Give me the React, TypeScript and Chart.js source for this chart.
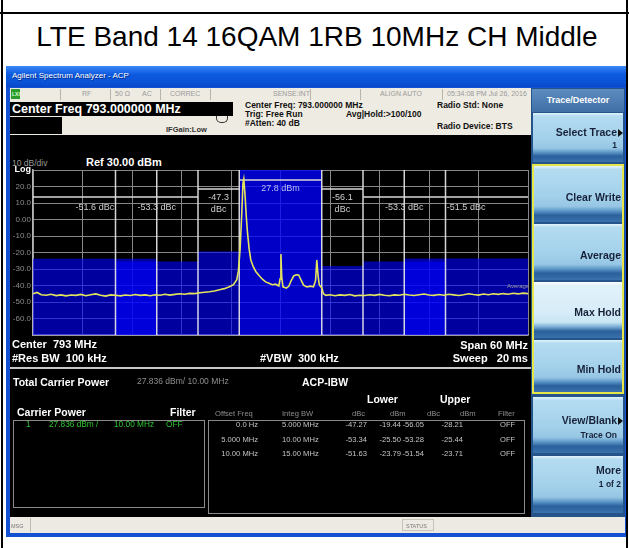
import React, { useEffect, useRef } from "react";
import { Chart, registerables } from "chart.js";
Chart.register(...registerables);

const FONT = "'Liberation Sans', Arial, Helvetica, sans-serif";

// ---------- data ----------
const title = "LTE Band 14 16QAM 1RB 10MHz CH Middle";
const refLevel = 30;
const bottomLevel = -70;
const dbPerDiv = 10;
const yTickLabels = ["Log", "20.0", "10.0", "0.00", "-10.0", "-20.0", "-30.0", "-40.0", "-50.0", "-60.0", ""];
const startFreq = 763;
const stopFreq = 823;
const freqPerDiv = 6;
const carrierBand = [788, 798];
const carrierPower = 27.836;
const carrierLabel = "27.8 dBm";
const carrierMarkerLevel = 24;
const offsetFreqs = [0, 5, 10];
const integBWs = [5, 10, 15];
const offsetFreqText = ["0.0 Hz", "5.000 MHz", "10.00 MHz"];
const integBWText = ["5.000 MHz", "10.00 MHz", "15.00 MHz"];
const lowerDbc = [-47.27, -53.34, -51.63];
const lowerDbm = [-19.44, -25.5, -23.79];
const upperDbc = [-56.05, -53.28, -51.54];
const upperDbm = [-28.21, -25.44, -23.71];
const lowerDbcLabel = ["-47.3", "-53.3", "-51.6"];
const upperDbcLabel = ["-56.1", "-53.3", "-51.5"];
const offsetMarkerLevels = [18.5, 13.6, 13.6];

const traceFreq = [
  763.0, 763.5, 764.0, 764.6, 765.2, 765.8, 766.4, 767.0, 767.6, 768.2, 768.8, 769.4, 770.0, 770.6, 771.2, 771.8,
  772.4, 773.0, 773.6, 774.2, 774.8, 775.4, 776.0, 776.6, 777.2, 777.8, 778.4, 779.0, 779.6, 780.2, 780.8, 781.4,
  782.0, 782.6, 783.2, 783.8, 784.4, 785.0, 785.6, 786.2, 786.8, 787.3, 787.7, 787.9, 788.1, 788.3, 788.45, 788.55,
  788.7, 788.85, 789.0, 789.2, 789.4, 789.7, 790.0, 790.4, 790.8, 791.2, 791.6, 792.0, 792.4, 792.8, 792.95, 793.05,
  793.15, 793.3, 793.7, 794.0, 794.3, 794.6, 794.9, 795.2, 795.5, 795.8, 796.2, 796.6, 797.0, 797.25, 797.4, 797.55,
  797.7, 798.0, 798.2, 798.5, 799.0, 799.6, 800.2, 800.8, 801.4, 802.0, 802.6, 803.2, 803.8, 804.4, 805.0, 805.6,
  806.2, 806.8, 807.4, 808.0, 808.6, 809.2, 809.8, 810.4, 811.0, 811.6, 812.2, 812.8, 813.4, 814.0, 814.6, 815.2,
  815.8, 816.4, 817.0, 817.6, 818.2, 818.8, 819.4, 820.0, 820.6, 821.2, 821.8, 822.4, 823.0,
];
const traceLevel = [
  -45.0, -44.2, -45.6, -45.9, -45.3, -46.1, -45.7, -46.3, -45.8, -46.0, -45.4, -46.2, -45.6, -45.1, -45.9, -46.4,
  -45.7, -45.9, -46.3, -45.8, -46.1, -45.5, -46.0, -45.7, -46.2, -45.6, -45.9, -45.3, -45.8, -45.4, -45.0, -45.3,
  -44.8, -44.9, -44.4, -44.1, -43.8, -43.3, -42.6, -41.9, -40.8, -39.5, -36.5, -31.0, -18.0, 3.0, 22.0, 24.5,
  15.0, 2.0, -8.0, -18.0, -24.5, -28.6, -31.5, -34.0, -36.2, -37.8, -38.6, -39.5, -39.2, -40.3, -36.0, -21.0,
  -35.0, -40.8, -41.6, -40.5, -37.0, -34.2, -33.5, -33.6, -36.8, -39.8, -40.9, -40.4, -40.8, -37.0, -24.5, -34.0,
  -39.5, -41.5, -45.0, -46.0, -45.6, -46.2, -45.7, -46.0, -45.5, -46.3, -45.9, -46.1, -45.6, -46.0, -45.4, -45.9,
  -46.2, -45.7, -45.9, -45.3, -45.8, -46.1, -45.6, -45.2, -45.8, -46.0, -45.5, -45.9, -45.3, -45.7, -46.1, -45.6,
  -45.0, -45.5, -45.8, -45.2, -45.6, -45.0, -45.4, -44.9, -45.3, -44.7, -45.1, -44.6, -44.9,
];

// ---------- derived geometry (from data) ----------
const lowerBands = offsetFreqs.map((o, i) => [carrierBand[0] - o - integBWs[i], carrierBand[0] - o]);
const upperBands = offsetFreqs.map((o, i) => [carrierBand[1] + o, carrierBand[1] + o + integBWs[i]]);

const bandFill = (band: number[], level: number, color: string) => ({
  type: "line",
  data: [
    { x: band[0], y: level },
    { x: band[1], y: level },
  ],
  fill: "start",
  backgroundColor: color,
  borderWidth: 0,
  pointRadius: 0,
  order: 4,
});

const edgeSet = Array.from(
  new Set([...lowerBands.flat(), ...upperBands.flat(), ...carrierBand])
).filter((f) => f > startFreq && f < stopFreq);
const edgeData: any[] = [];
edgeSet.forEach((f) => {
  edgeData.push({ x: f, y: bottomLevel }, { x: f, y: refLevel }, { x: f, y: null });
});

const barData: any[] = [];
barData.push({ x: carrierBand[0], y: carrierMarkerLevel }, { x: carrierBand[1], y: carrierMarkerLevel }, { x: carrierBand[1], y: null });
offsetFreqs.forEach((_, i) => {
  [lowerBands[i], upperBands[i]].forEach((b) => {
    barData.push({ x: b[0], y: offsetMarkerLevels[i] }, { x: b[1], y: offsetMarkerLevels[i] }, { x: b[1], y: null });
  });
});

const acpLabelPlugin = {
  id: "acpLabels",
  afterDatasetsDraw(chart: any) {
    const { ctx } = chart;
    const xs = chart.scales.x;
    const ys = chart.scales.y;
    ctx.save();
    ctx.textAlign = "center";
    ctx.textBaseline = "middle";
    ctx.font = `9px ${FONT}`;
    ctx.fillStyle = "#b9bdf0";
    ctx.fillText(
      carrierLabel,
      xs.getPixelForValue((carrierBand[0] + carrierBand[1]) / 2),
      ys.getPixelForValue(carrierMarkerLevel) + 9
    );
    ctx.fillStyle = "#cfcfcf";
    offsetFreqs.forEach((_, i) => {
      const pairs: [number[], string][] = [
        [lowerBands[i], lowerDbcLabel[i]],
        [upperBands[i], upperDbcLabel[i]],
      ];
      pairs.forEach(([band, lab]) => {
        const cx = xs.getPixelForValue((band[0] + band[1]) / 2);
        const yy = ys.getPixelForValue(offsetMarkerLevels[i]);
        if (i === 0) {
          ctx.fillText(lab, cx, yy + 9);
          ctx.fillText("dBc", cx, yy + 20.5);
        } else {
          ctx.fillText(`${lab} dBc`, cx, yy + 10);
        }
      });
    });
    ctx.restore();
  },
};

// ---------- small HTML helpers ----------
function T(p: any) {
  const s = p.s || 9;
  const st: any = {
    position: "absolute",
    top: p.y - s * 0.6,
    fontSize: s,
    lineHeight: `${s * 1.2}px`,
    fontWeight: p.b ? "bold" : "normal",
    color: p.c || "#fff",
    whiteSpace: "pre",
    fontFamily: FONT,
    ...(p.style || {}),
  };
  if (p.a === "right") st.right = 629 - p.x;
  else if (p.a === "center") {
    st.left = p.x;
    st.transform = "translateX(-50%)";
  } else st.left = p.x;
  return <div style={st}>{p.children}</div>;
}
function B(p: any) {
  return (
    <div
      style={{
        position: "absolute",
        left: p.x,
        top: p.y,
        width: p.w,
        height: p.h,
        background: p.bg,
        boxSizing: "border-box",
        ...(p.style || {}),
      }}
    />
  );
}

const keyGrad =
  "linear-gradient(to bottom, #e4f4fc 0%, #b4dcf1 6%, #a2d0ea 55%, #96c6e4 72%, #5e98c8 80%, #2a609c 88%, #3a72ac 100%)";
const keyGradLight =
  "linear-gradient(to bottom, #ffffff 0%, #e2f2fa 6%, #d6ecf8 55%, #c9e5f4 72%, #79acd4 80%, #2a609c 88%, #3a72ac 100%)";

function Arrow({ x, y }: any) {
  return (
    <div
      style={{
        position: "absolute",
        left: x,
        top: y - 4,
        width: 0,
        height: 0,
        borderLeft: "5px solid #111",
        borderTop: "4px solid transparent",
        borderBottom: "4px solid transparent",
      }}
    />
  );
}

export default function App() {
  const ref = useRef<HTMLCanvasElement>(null);
  useEffect(() => {
    const datasets: any[] = [
      {
        type: "line",
        data: traceFreq.map((f, i) => ({ x: f, y: traceLevel[i] })),
        borderColor: "#e4e45c",
        borderWidth: 1.6,
        pointRadius: 0,
        fill: false,
        order: 0,
      },
      {
        type: "line",
        data: barData,
        borderColor: "#d8d8d8",
        borderWidth: 1.5,
        pointRadius: 0,
        fill: false,
        spanGaps: false,
        order: 1,
      },
      {
        type: "line",
        data: edgeData,
        borderColor: "rgba(235,235,235,0.9)",
        borderWidth: 1.5,
        pointRadius: 0,
        fill: false,
        spanGaps: false,
        order: 2,
      },
      bandFill(carrierBand, refLevel, "rgba(0,0,255,0.78)"),
      ...lowerBands.map((b, i) => bandFill(b, lowerDbm[i], "rgba(0,0,255,0.62)")),
      ...upperBands.map((b, i) => bandFill(b, upperDbm[i], "rgba(0,0,255,0.62)")),
    ];
    const chart = new Chart(ref.current as HTMLCanvasElement, {
      type: "line",
      data: { datasets },
      options: {
        animation: false,
        responsive: false,
        devicePixelRatio: 1,
        parsing: true,
        layout: { padding: { left: 0, top: 35, right: 2, bottom: 32 } },
        plugins: { legend: { display: false }, tooltip: { enabled: false } },
        scales: {
          x: {
            type: "linear",
            min: startFreq,
            max: stopFreq,
            ticks: { stepSize: freqPerDiv, display: false },
            grid: { color: "#878787", lineWidth: 1, drawTicks: false },
            border: { display: true, color: "#b4b4b4", width: 1.5 },
            afterFit: (s: any) => {
              s.height = 0;
            },
          },
          y: {
            type: "linear",
            min: bottomLevel,
            max: refLevel,
            ticks: {
              stepSize: dbPerDiv,
              padding: 2,
              autoSkip: false,
              color: (c: any) => (c.tick && c.tick.value === refLevel ? "#ffffff" : "#8c8c8c"),
              font: (c: any) =>
                c.tick && c.tick.value === refLevel
                  ? { family: FONT, size: 9, weight: "bold" }
                  : { family: FONT, size: 8 },
              callback: (v: any) => yTickLabels[Math.round((refLevel - v) / dbPerDiv)],
            },
            grid: { color: "#878787", lineWidth: 1, drawTicks: false },
            border: { display: true, color: "#b4b4b4", width: 1.5 },
            afterFit: (s: any) => {
              s.width = 23;
            },
          },
        },
      } as any,
      plugins: [acpLabelPlugin],
    } as any);
    return () => chart.destroy();
  }, []);

  const gray = "#8e8e8e";
  const tbl = "#c4c4c4";
  const rowsY = [425, 439.5, 454];
  const ts = 7.6;

  return (
    <div
      style={{
        position: "absolute",
        left: 0,
        top: 0,
        width: 629,
        height: 548,
        background: "#fff",
        overflow: "hidden",
        fontFamily: FONT,
      }}
    >
      {/* outer frame */}
      <B x={1} y={0} w={2} h={548} bg="#000" />
      <B x={626} y={0} w={2} h={548} bg="#000" />
      <B x={0} y={12} w={629} h={2} bg="#000" />
      <T x={317} y={37} s={28} c="#000" a="center">
        {title}
      </T>

      {/* window */}
      <B x={6} y={66} w={620} h={471} bg="#1450d2" />
      <B x={6} y={66} w={620} h={21} bg="linear-gradient(to bottom, #3c8af4, #0c5ae0 40%, #0a52d6 80%, #0848c8)" />
      <T x={12} y={76} s={8} c="#fff" style={{ textShadow: "1px 1px 0 #0a2c80" }}>
        Agilent Spectrum Analyzer - ACP
      </T>

      {/* status row */}
      <B x={10} y={88} w={521} h={13} bg="#eeebe2" />
      <B x={11} y={89} w={9} h={10} bg="#2b9b2b" />
      <T x={12} y={94} s={5} c="#d8ffd8" b>
        LXI
      </T>
      {[60, 110, 160, 210, 310, 360, 442].map((x) => (
        <B key={x} x={x} y={89} w={1} h={11} bg="#b8b4a8" />
      ))}
      <T x={82} y={94} s={7} c="#9a9a9a">RF</T>
      <T x={115} y={94} s={7} c="#9a9a9a">50 Ω</T>
      <T x={142} y={94} s={7} c="#9a9a9a">AC</T>
      <T x={170} y={94} s={7} c="#9a9a9a">CORREC</T>
      <T x={273} y={94} s={7} c="#9a9a9a">SENSE:INT</T>
      <T x={380} y={94} s={7} c="#9a9a9a">ALIGN AUTO</T>
      <T x={447} y={94} s={7} c="#9a9a9a">05:34:08 PM Jul 26, 2016</T>

      {/* header info */}
      <B x={10} y={101} w={521} h={34} bg="#eeebe2" />
      <B x={10} y={102} w={223} h={14} bg="#000" />
      <T x={12} y={109} s={12.5} b c="#fff">
        Center Freq 793.000000 MHz
      </T>
      <B x={10} y={117} w={52} h={17} bg="#000" />
      <T x={166} y={129} s={7.5} b c="#333">IFGain:Low</T>
      <div
        style={{
          position: "absolute",
          left: 216,
          top: 116,
          width: 10,
          height: 6,
          border: "1.5px solid #333",
          borderTop: "none",
          borderRadius: "0 0 5px 5px",
        }}
      />
      <T x={245} y={105} s={8.5} b c="#111">Center Freq: 793.000000 MHz</T>
      <T x={245} y={114} s={8.5} b c="#111">Trig: Free Run</T>
      <T x={346} y={114} s={8.5} b c="#111">Avg|Hold:&gt;100/100</T>
      <T x={245} y={123} s={8.5} b c="#111">#Atten: 40 dB</T>
      <T x={437} y={105} s={8.5} b c="#111">Radio Std: None</T>
      <T x={437} y={126} s={8.5} b c="#111">Radio Device: BTS</T>

      {/* display */}
      <B x={10} y={135} w={521} h={233} bg="#000" />
      <T x={12} y={163} s={8.5} c="#9a9a9a">10 dB/div</T>
      <T x={86} y={163} s={11} b c="#fff">Ref 30.00 dBm</T>
      <canvas
        ref={ref}
        width={520}
        height={232}
        style={{ position: "absolute", left: 10, top: 135, width: 520, height: 232 }}
      />
      <T x={507} y={287} s={6} c="#9a9a9a">Average</T>
      <T x={12} y={345} s={11} b c="#fff">{"Center  793 MHz"}</T>
      <T x={12} y={359} s={11} b c="#fff">{"#Res BW  100 kHz"}</T>
      <T x={260} y={359} s={11} b c="#fff">{"#VBW  300 kHz"}</T>
      <T x={528} y={346} s={11} b c="#fff" a="right">Span 60 MHz</T>
      <T x={528} y={359} s={11} b c="#fff" a="right">{"Sweep   20 ms"}</T>
      <B x={10} y={367} w={521} h={2} bg="#c8c8c8" />

      {/* lower panel */}
      <B x={10} y={369} w={521} h={148} bg="#000" />
      <T x={13} y={382} s={10.5} b c="#fff">Total Carrier Power</T>
      <T x={137} y={381} s={8.5} c={gray}>27.836 dBm/ 10.00 MHz</T>
      <T x={302} y={382} s={10.5} b c="#fff">ACP-IBW</T>
      <T x={367} y={399} s={10.5} b c="#fff">Lower</T>
      <T x={440} y={399} s={10.5} b c="#fff">Upper</T>
      <T x={17} y={412} s={10.5} b c="#fff">Carrier Power</T>
      <T x={170} y={412} s={10.5} b c="#fff">Filter</T>
      <T x={215} y={414} s={ts} c={gray}>Offset Freq</T>
      <T x={282} y={414} s={ts} c={gray}>Integ BW</T>
      <T x={352} y={414} s={ts} c={gray}>dBc</T>
      <T x={390} y={414} s={ts} c={gray}>dBm</T>
      <T x={427} y={414} s={ts} c={gray}>dBc</T>
      <T x={460} y={414} s={ts} c={gray}>dBm</T>
      <T x={498} y={414} s={ts} c={gray}>Filter</T>

      <B x={13} y={420} w={192} h={88} bg="transparent" style={{ border: "1.5px solid #8a8a8a" }} />
      <T x={26} y={425} s={8.3} c="#2fc42f">1</T>
      <T x={49} y={425} s={8.3} c="#2fc42f">{`${carrierPower.toFixed(3)} dBm /`}</T>
      <T x={114} y={425} s={8.3} c="#2fc42f">10.00 MHz</T>
      <T x={166} y={425} s={8.3} c="#2fc42f">OFF</T>

      <B x={208} y={420} w={317} h={94} bg="transparent" style={{ border: "1.5px solid #8a8a8a" }} />
      {offsetFreqs.map((_, i) => (
        <React.Fragment key={i}>
          <T x={258} y={rowsY[i]} s={ts} c={tbl} a="right">{offsetFreqText[i]}</T>
          <T x={282} y={rowsY[i]} s={ts} c={tbl}>{integBWText[i]}</T>
          <T x={367} y={rowsY[i]} s={ts} c={tbl} a="right">{lowerDbc[i].toFixed(2)}</T>
          <T x={401} y={rowsY[i]} s={ts} c={tbl} a="right">{lowerDbm[i].toFixed(2)}</T>
          <T x={424} y={rowsY[i]} s={ts} c={tbl} a="right">{upperDbc[i].toFixed(2)}</T>
          <T x={463} y={rowsY[i]} s={ts} c={tbl} a="right">{upperDbm[i].toFixed(2)}</T>
          <T x={500} y={rowsY[i]} s={ts} c={tbl}>OFF</T>
        </React.Fragment>
      ))}

      {/* bottom status bar */}
      <B x={10} y={517} w={615} h={16} bg="#eceae2" />
      <B x={30} y={518} w={1} h={14} bg="#c0bcb0" />
      <T x={11} y={526} s={5.5} c="#777">MSG</T>
      <B x={402} y={519} w={32} h={12} bg="transparent" style={{ border: "1px solid #c8c4b8" }} />
      <T x={406} y={526} s={5.5} c="#777">STATUS</T>

      {/* right softkey panel */}
      <B x={531} y={88} w={94} h={429} bg="#24548a" />
      <B x={532} y={89} w={92} h={23} bg="linear-gradient(to bottom, #5d8cc0, #3f6fa6)" />
      <T x={578} y={100} s={9} b c="#fff" a="center">Trace/Detector</T>

      <B x={533} y={113} w={90} h={49} bg={keyGrad} />
      <T x={617} y={132} s={10.5} b c="#17223a" a="right">Select Trace</T>
      <Arrow x={618} y={133} />
      <T x={617} y={145} s={8.5} b c="#17223a" a="right">1</T>

      <B x={532} y={164} w={92} h={230} bg="transparent" style={{ border: "2px solid #e6e64a" }} />
      <B x={534} y={166} w={88} h={56} bg={keyGrad} />
      <T x={621} y={197} s={10.5} b c="#17223a" a="right">Clear Write</T>
      <B x={534} y={224} w={88} h={56} bg={keyGrad} />
      <T x={621} y={255} s={10.5} b c="#17223a" a="right">Average</T>
      <B x={534} y={282} w={88} h={56} bg={keyGradLight} />
      <T x={621} y={312} s={10.5} b c="#17223a" a="right">Max Hold</T>
      <B x={534} y={340} w={88} h={52} bg={keyGrad} />
      <T x={621} y={369} s={10.5} b c="#17223a" a="right">Min Hold</T>

      <B x={533} y={397} w={90} h={56} bg={keyGrad} />
      <T x={617} y={420} s={10.5} b c="#17223a" a="right">View/Blank</T>
      <Arrow x={618} y={421} />
      <T x={617} y={435} s={8.5} b c="#17223a" a="right">Trace On</T>
      <B x={533} y={456} w={90} h={57} bg={keyGrad} />
      <T x={621} y={470} s={10.5} b c="#17223a" a="right">More</T>
      <T x={621} y={484} s={8.5} b c="#17223a" a="right">1 of 2</T>
    </div>
  );
}
